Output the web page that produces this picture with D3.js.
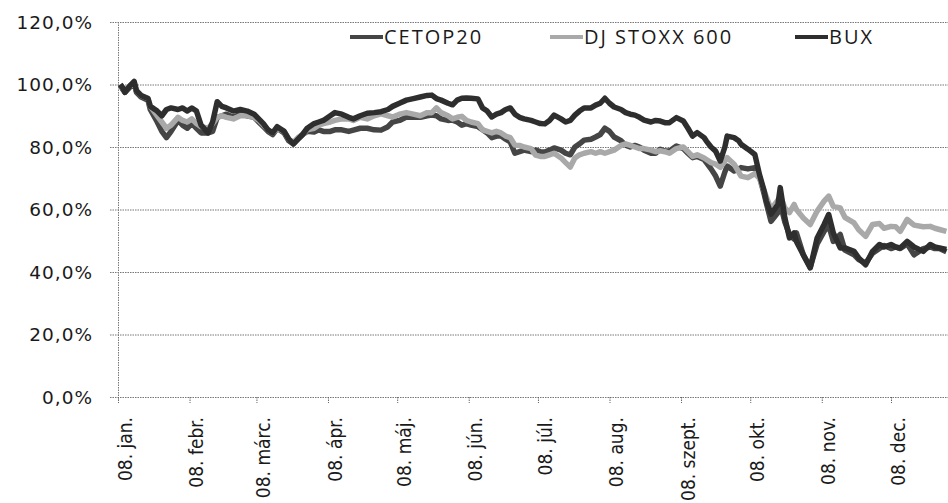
<!DOCTYPE html>
<html>
<head>
<meta charset="utf-8">
<script src="https://cdn.jsdelivr.net/npm/d3@7"></script>
<style>
  body { margin: 0; background: #fff; }
  svg { display: block; }
</style>
</head>
<body>
<div id="chart"></div>
<script>
// dates of the sampled points (2008)
const dates = [
  "01-02","01-03","01-04","01-06","01-08","01-09","01-11","01-14","01-15","01-18",
  "01-20","01-22","01-24","01-27","01-29","01-31","02-02","02-04","02-06","02-09",
  "02-11","02-13","02-15","02-17","02-20","02-23","02-26","02-29","03-02","03-04",
  "03-06","03-08","03-10","03-13","03-15","03-17","03-19","03-21","03-23","03-26",
  "03-28","03-30","04-02","04-04","04-07","04-10","04-12","04-15","04-18","04-21",
  "04-24","04-27","04-29","05-02","05-05","05-08","05-11","05-14","05-16","05-18",
  "05-20","05-23","05-25","05-27","05-29","05-31","06-02","06-05","06-07","06-09",
  "06-11","06-13","06-15","06-17","06-19","06-21","06-23","06-25","06-28","06-30",
  "07-02","07-04","07-06","07-08","07-11","07-13","07-15","07-17","07-19","07-21",
  "07-24","07-26","07-28","07-30","08-01","08-03","08-06","08-08","08-10","08-12",
  "08-14","08-16","08-19","08-21","08-23","08-25","08-27","08-30","09-02","09-04",
  "09-06","09-08","09-11","09-12","09-14","09-16","09-18","09-20","09-21","09-24",
  "09-26","09-27","09-30","10-03","10-05","10-07","10-08","10-10","10-13","10-14",
  "10-16","10-18","10-20","10-21","10-24","10-27","10-30","11-02","11-04","11-06",
  "11-09","11-11","11-15","11-17","11-20","11-23","11-26","11-28","12-01","12-03",
  "12-05","12-08","12-11","12-15","12-18","12-20","12-22","12-25"
];

// index values, % of 2008-01-02
const cetop20 = [
  100,98.5,97.5,99,100.5,97.5,96,95,92,88,
  85,83,85,88.5,87,86,87.5,86,84.5,84.5,
  85,89.5,90,90.5,89.5,90.5,90,89.5,88,86.5,
  85,84,86,84.5,82,81,82.5,84,85,84.8,
  85.5,85,85,85.5,85.5,85,85.4,86,86,85.5,
  85.4,86.5,88,88.5,89.6,89.5,89.5,90,90.2,90,
  89,88.5,88.6,88,87,87.5,87,86.5,85.5,84.5,
  83,83.5,83.5,82.5,81.6,78,78.5,79,78.5,79,
  78.5,78.4,79,79.7,79,78,77.5,80,81,82.2,
  82.5,83.2,84,86,85,83.2,82,80.6,80,80.5,
  80,79,78,78,79.3,78.7,78.7,80.3,79.5,78,
  76.6,77,76,75,73,70.7,67.5,72,73.9,72.3,
  73,73.4,73,73.4,70.5,65,62,56.2,59,62,
  56,52,50.5,52.5,45.5,41.5,49,53,55,49.8,
  52,47,45.5,44,42.8,46,47.5,48.5,47.5,48,
  47.5,49,45.5,47.5,48,47.5,47.5,46.5
];

const stoxx600 = [
  100,99,98,99.5,100.5,98,96.5,95.5,93,90,
  88,86,87,89.5,88.5,88,89,87.5,86.5,86,
  87.5,89.5,90,89.5,89,90,90,89.5,88.5,87,
  85.5,84.5,86,85,82.5,81.5,83,84,85.5,86,
  87,87.5,88,88.5,89,89,88.5,89.5,89,90,
  90.6,90,89.6,90.5,91,90.5,90,91,91,92.5,
  91,90,89,89.5,89.8,88.5,88,87.5,85.5,85,
  84.5,85,84.5,83.5,83,80.6,80.5,80,79.5,77.4,
  77,77,77.5,78,76.5,75,73.6,76.5,77.5,78,
  78.5,78,78.5,78,78.5,79,80.5,81,80.5,80,
  79.5,79.5,79,78.5,78.8,78.5,78,79.5,80,78.5,
  77,77.5,76.5,76,75,74.5,73.5,75.5,76.6,74.5,
  72,70.7,70.2,71.5,70,66,64,60,63,64.3,
  60.5,59,61.6,60,57.3,55.2,59.5,62.7,64.3,61,
  60.5,57.5,55.7,53.5,51.4,55.2,55.5,54,54.6,54.5,
  53,56.8,55,54.5,54.6,54,53.6,53
];

const bux = [
  100,99,97.5,99.5,101,98,96.5,95.5,93,91.5,
  90,92,92.5,92,92.5,91.5,92.5,91.5,87,84.5,
  88,94.5,93,92.5,91.5,92,91.5,90.5,89,87.5,
  85.5,84.5,86.5,85,82.5,81,82.5,84,86,87.5,
  88,88.5,90,91,90.5,89.5,89,90,90.8,91,
  91.3,92,93,94,95,95.5,96,96.5,96.6,95.5,
  95,94,93.5,95,95.6,95.7,95.6,95.4,92.5,91.5,
  89.6,90.5,91,92,92.5,90.5,89.5,89,88.5,88,
  87.5,87.4,88.5,90.2,89,88,88.5,90.2,91.5,92.5,
  92.5,93.4,94,95.6,94,92.8,92,91,90.5,90.2,
  89.5,88.6,88,88.5,88.3,87.8,87.8,89.4,88.3,86,
  83.5,84.6,83,81.9,80,78.7,75.5,80,83.5,83,
  82,80.9,79.3,77.6,71.2,66,62.7,58.5,61.6,67,
  57.3,50.9,52.5,49.8,45.5,41.3,50.9,55.2,58.4,52.5,
  47.7,47.7,46.6,44.5,42.3,46.6,48.8,48,48.8,48,
  47.7,49.8,48,46.6,48.8,48,47.7,47.2
];

const yTicks = [0, 20, 40, 60, 80, 100, 120];
const monthLabels = ["08. jan.","08. febr.","08. márc.","08. ápr.","08. máj.","08. jún.",
  "08. júl.","08. aug.","08. szept.","08. okt.","08. nov.","08. dec."];

const series = [
  { name: "CETOP20", values: cetop20, color: "#454545" },
  { name: "DJ STOXX 600", values: stoxx600, color: "#a9a9a9" },
  { name: "BUX", values: bux, color: "#2e2e2e" }
];

const width = 948, height = 503;
const plotLeft = 118, plotTop = 22, plotBottom = 397;
const parse = d3.utcParse("%Y-%m-%d");
const days = dates.map(d => parse("2008-" + d));
const months = d3.range(12).map(m => new Date(Date.UTC(2008, m, 1)));

const x = d3.scaleUtc()
  .domain([months[0], months[11]])
  .range([plotLeft, 891]);

const y = d3.scaleLinear()
  .domain([0, 120])
  .range([plotBottom, plotTop]);

const svg = d3.select("#chart")
  .append("svg")
  .attr("width", width)
  .attr("height", height);

// horizontal dotted grid
svg.append("g")
  .selectAll("line")
  .data(yTicks)
  .join("line")
  .attr("x1", plotLeft - 8)
  .attr("x2", width)
  .attr("y1", d => y(d) + 0.5)
  .attr("y2", d => y(d) + 0.5)
  .attr("stroke", "#777")
  .attr("stroke-dasharray", "1.5,1");

// y axis line
svg.append("line")
  .attr("x1", plotLeft + 0.5).attr("x2", plotLeft + 0.5)
  .attr("y1", plotTop).attr("y2", plotBottom + 6)
  .attr("stroke", "#777")
  .attr("stroke-dasharray", "1.5,1");

// y labels
svg.append("g")
  .selectAll("text")
  .data(yTicks)
  .join("text")
  .attr("x", 93)
  .attr("y", d => y(d))
  .attr("dy", "0.36em")
  .attr("text-anchor", "end")
  .attr("font-family", "DejaVu Sans, Verdana, sans-serif")
  .attr("font-size", 18.5)
  .attr("letter-spacing", 1)
  .attr("fill", "#1a1a1a")
  .text(d => d.toFixed(1).replace(".", ",") + "%");

// x ticks and month labels
const xAxis = svg.append("g");
xAxis.selectAll("line")
  .data(months)
  .join("line")
  .attr("x1", d => x(d) + 0.5).attr("x2", d => x(d) + 0.5)
  .attr("y1", plotBottom).attr("y2", plotBottom + 6)
  .attr("stroke", "#666")
  .attr("stroke-dasharray", "1.5,1");

xAxis.selectAll("text")
  .data(months)
  .join("text")
  .attr("transform", d => `translate(${x(d) + 7}, ${plotBottom + 20}) rotate(-90)`)
  .attr("dy", "0.35em")
  .attr("text-anchor", "end")
  .attr("font-family", "DejaVu Sans Condensed, sans-serif")
  .attr("font-size", 19)
  .attr("fill", "#1a1a1a")
  .text((d, i) => monthLabels[i]);

// lines
const line = d3.line()
  .x((d, i) => x(days[i]))
  .y(d => y(d));

svg.append("g")
  .selectAll("path")
  .data(series)
  .join("path")
  .attr("d", d => line(d.values))
  .attr("fill", "none")
  .attr("stroke", d => d.color)
  .attr("stroke-width", 5.5)
  .attr("stroke-linejoin", "round");

// legend
const legendX = [350, 550, 795];
const legend = svg.append("g")
  .selectAll("g")
  .data(series)
  .join("g")
  .attr("transform", (d, i) => `translate(${legendX[i]}, 37)`);

legend.append("line")
  .attr("x1", 0).attr("x2", 33)
  .attr("stroke", d => d.color)
  .attr("stroke-width", 4);

legend.append("text")
  .attr("x", 34)
  .attr("dy", "0.35em")
  .attr("font-family", "Open Sans, sans-serif")
  .attr("font-size", 20)
  .attr("letter-spacing", 2)
  .attr("fill", "#1a1a1a")
  .text(d => d.name);
</script>
</body>
</html>
